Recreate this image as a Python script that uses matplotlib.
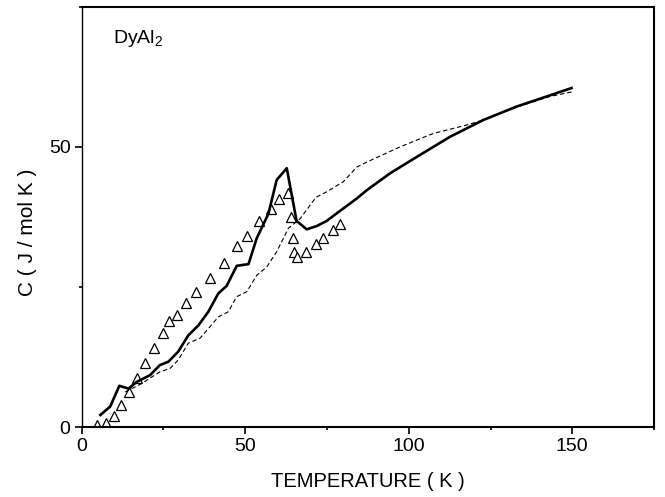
import matplotlib
matplotlib.use('Agg')
import matplotlib.pyplot as plt
from matplotlib.ticker import MultipleLocator

plt.rcParams['font.family'] = ['Liberation Sans', 'DejaVu Sans']

# calculated curve (solid)
t_calc = [5.7, 8.7, 11.5, 14.3, 16.8, 20.9, 23.9, 26.5, 29.5, 32.6, 35.7, 38.7,
          41.8, 44.3, 47.4, 51.0, 53.5, 57.1, 59.6, 62.7, 65.7, 68.8, 71.9,
          74.9, 79.0, 84.1, 87.2, 94.3, 102.4, 112.6, 122.8, 133.0, 143.2, 149.8]
c_calc = [2.2, 3.7, 7.4, 6.9, 8.1, 9.3, 11.1, 11.7, 13.5, 16.4, 18.2, 20.6,
          23.9, 25.2, 28.8, 29.1, 33.7, 38.1, 44.1, 46.2, 36.8, 35.3, 35.9,
          36.8, 38.6, 40.8, 42.3, 45.3, 48.2, 51.8, 54.8, 57.2, 59.2, 60.5]

# second calculation (dashed)
t_dash = [13.3, 18.3, 23.9, 27.0, 29.5, 32.6, 36.2, 38.7, 41.8, 44.8, 47.4,
          50.5, 53.5, 56.6, 59.6, 63.2, 66.8, 71.6, 74.9, 80.0, 84.1, 87.2,
          97.3, 107.5, 117.7, 122.8, 133.0, 143.2, 149.8]
c_dash = [6.3, 7.8, 9.9, 10.5, 12.0, 15.0, 15.9, 17.6, 19.7, 20.6, 23.3,
          24.2, 27.1, 28.6, 31.3, 35.5, 37.2, 41.0, 42.0, 43.8, 46.4, 47.3,
          50.0, 52.4, 53.9, 54.8, 57.1, 59.0, 59.8]

# experiment (triangles)
t_exp = [4.8, 7.4, 9.9, 12.0, 14.6, 16.8, 19.4, 22.1, 24.7, 26.8, 29.1, 31.9,
         34.9, 39.2, 43.5, 47.4, 50.5, 54.1, 57.8, 60.3, 63.2, 64.0, 64.7,
         65.0, 65.9, 68.5, 71.6, 73.9, 76.8, 79.0]
c_exp = [0.5, 0.8, 2.1, 3.9, 6.3, 8.8, 11.5, 14.2, 16.9, 18.9, 20.0, 22.1,
         24.2, 26.7, 29.3, 32.4, 34.1, 36.8, 39.0, 40.7, 41.7, 37.5, 33.8,
         31.2, 30.4, 31.2, 32.6, 33.8, 35.2, 36.2]

fig = plt.figure(figsize=(6.65, 4.97), dpi=100)
ax = fig.add_axes([0.1229, 0.1402, 0.8606, 0.8463])

ax.plot(t_exp, c_exp, ls='none', marker='^', ms=7.5, mfc='white',
        mec='black', mew=0.9, zorder=2)
line, = ax.plot(t_dash, c_dash, color='black', lw=0.8, zorder=3)
line.set_dashes((4, 2.5))
ax.plot(t_calc, c_calc, color='black', lw=1.9, zorder=4)

ax.set_xlim(0, 175)
ax.set_ylim(0, 75)
ax.xaxis.set_major_locator(MultipleLocator(50))
ax.xaxis.set_minor_locator(MultipleLocator(25))
ax.yaxis.set_major_locator(MultipleLocator(50))
ax.yaxis.set_minor_locator(MultipleLocator(25))
ax.tick_params(which='major', direction='out', length=5, width=1.2,
               labelsize=14, pad=3)
ax.tick_params(which='minor', direction='out', length=2.5, width=1.2)
for side in ['top', 'right', 'bottom']:
    ax.spines[side].set_linewidth(1.5)
ax.spines['left'].set_linewidth(1.0)

ax.set_xlabel('TEMPERATURE ( K )', fontsize=14.5, labelpad=12)
ax.set_ylabel('C ( J / mol K )', fontsize=15)
ax.yaxis.set_label_coords(-0.078, 0.464)
ax.text(0.055, 0.925, r'DyAl$_\mathregular{2}$', transform=ax.transAxes,
        fontsize=14, va='center')

fig.savefig('out.png', dpi=100)
